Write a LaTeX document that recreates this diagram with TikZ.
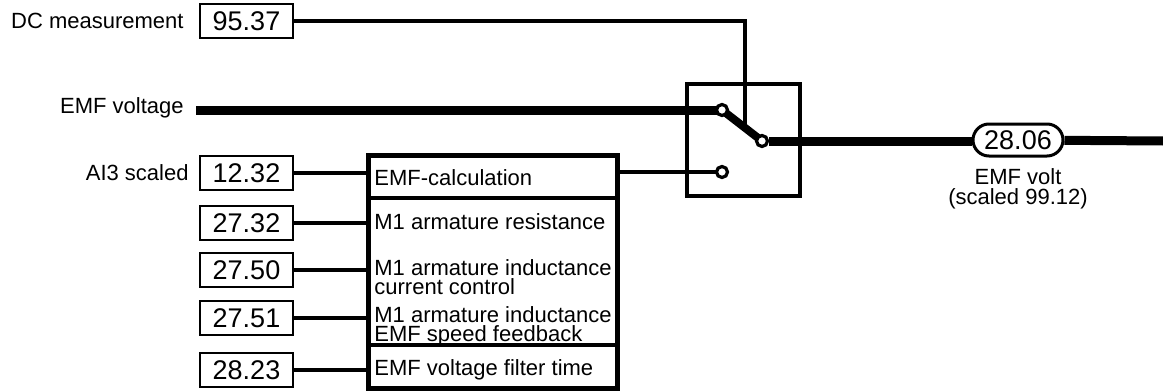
\documentclass[tikz,border=0pt]{standalone}
\usepackage{fontspec}
\setmainfont{Liberation Sans}
\usepackage{tikz}
\usetikzlibrary{shapes.misc}
\newcommand{\parambox}[4][]{\node[draw,line width=1.2pt,minimum width=46.5pt,minimum height=17pt,inner sep=0pt,font=\fontsize{13.5}{14}\selectfont,#1] at (#2) (#3) {#4}}
\newcommand{\switchpin}[3][]{\node[circle,draw,fill=white,line width=1.6pt,minimum size=5.5pt,inner sep=0pt,#1] at (#2) (#3) {}}

\begin{document}
\begin{tikzpicture}[x=0.5pt,y=-0.5pt,font=\fontsize{11}{9.5}\selectfont,
    sig/.style={line width=1.9pt},
    bus/.style={line width=4.5pt},
    lbl/.style={inner sep=0pt}]
  \useasboundingbox (0,0) rectangle (1163,391);
  % parameter inputs
  \parambox{246.5,21}{p9537}{95.37};
  \parambox{246.5,173}{p1232}{12.32};
  \parambox{246.5,223}{p2732}{27.32};
  \parambox{246.5,270}{p2750}{27.50};
  \parambox{246.5,318}{p2751}{27.51};
  \parambox{246.5,370}{p2823}{28.23};
  \node[lbl,anchor=east] at (184,21) (dclbl) {DC measurement};
  \node[lbl,anchor=east] at (184,108) (emflbl) {EMF voltage};
  \node[lbl,anchor=east] at (189,173) (ailbl) {AI3 scaled};

  % calculation block
  \node[draw,line width=2.5pt,minimum width=124.5pt,minimum height=116.5pt,inner sep=0pt] at (492.5,271.5) (calc) {};
  \draw[sig] (368,198) -- (617,198);
  \draw[sig] (368,345) -- (617,345);
  \node[lbl,anchor=west] at (374,178) (rcalc) {EMF-calculation};
  \node[lbl,anchor=west] at (374,222) (rres) {M1 armature resistance};
  \node[lbl,anchor=west,align=left] at (374,277) (rind) {M1 armature inductance\\current control};
  \node[lbl,anchor=west,align=left] at (374,326) (rindemf) {M1 armature inductance\\EMF speed feedback};
  \node[lbl,anchor=west] at (374,370) (rfilt) {EMF voltage filter time};
  \draw[sig]
        (p1232) -- (p1232 -| calc.west)
        (p2732) -- (p2732 -| calc.west)
        (p2750) -- (p2750 -| calc.west)
        (p2751) -- (p2751 -| calc.west)
        (p2823) -- (p2823 -| calc.west);

  % selector switch
  \node[draw,line width=1.75pt,minimum width=56.5pt,minimum height=56pt,inner sep=0pt] at (743.5,140) (sw) {};
  \coordinate (emfin) at (196,110);
  \coordinate (tap) at (745,126);
  \coordinate (outend) at (1163,141);
  \draw[sig] (p9537) -| (tap);
  \draw[bus] (emfin) -- (722,110);
  \draw[line width=4pt] (722,110) -- (762,141);
  \draw[sig] (calc.east |- 0,172) -- (722,172);
  \switchpin{722,110}{pin1};
  \switchpin{762,141}{pinout};
  \switchpin{722,172}{pin2};

  % output
  \node[draw,rounded rectangle,line width=1.5pt,minimum width=45pt,minimum height=16pt,inner sep=0pt,font=\fontsize{13.5}{14}\selectfont] at (1018,140) (emfvolt) {28.06};
  \node[lbl,align=center,font=\fontsize{11}{10}\selectfont] at (1018,189) (emfvoltlbl) {EMF volt\\(scaled 99.12)};
  \draw[bus] (pinout) -- (pinout -| emfvolt.west);
  \draw[bus] (emfvolt) -- (outend);
\end{tikzpicture}
\end{document}
